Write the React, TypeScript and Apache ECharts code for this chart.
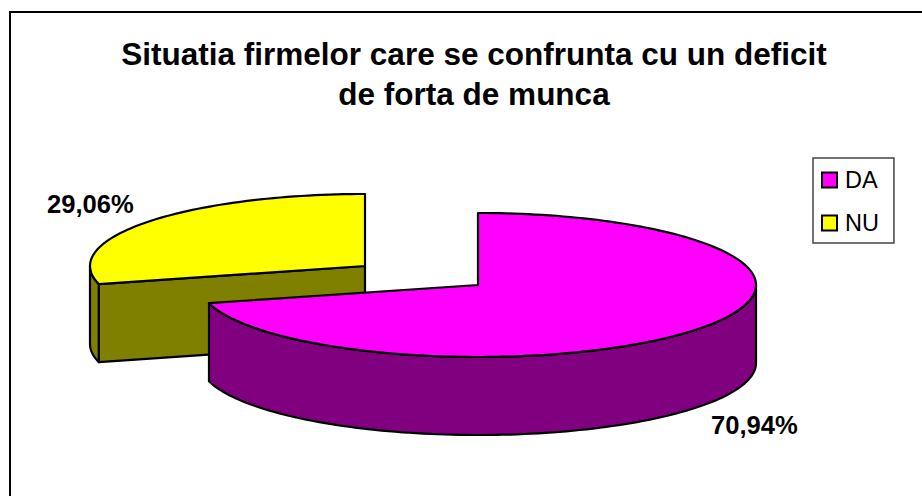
import React, { useEffect, useRef } from "react";
import * as echarts from "echarts";

const titleLines = ["Situatia firmelor care se confrunta cu un deficit", "de forta de munca"];
const categories = ["DA", "NU"];
const values = [70.94, 29.06];
const topColors = ["#ff00ff", "#ffff00"];
const sideColors = ["#800080", "#808000"];

const total = values.reduce((a, b) => a + b, 0);
const DEPTH = 78;
const RY = 72;
const fmt = (v: number) => v.toFixed(2).replace(".", ",") + "%";

function arc(cx: number, cy: number, rx: number, from: number, to: number) {
  const pts: number[][] = [];
  const n = Math.max(2, Math.ceil(Math.abs(to - from) / 1.5));
  for (let i = 0; i <= n; i++) {
    const a = ((from + ((to - from) * i) / n) * Math.PI) / 180;
    pts.push([cx + rx * Math.sin(a), cy - RY * Math.cos(a)]);
  }
  return pts;
}
const drop = (pts: number[][]) => pts.map((p) => [p[0], p[1] + DEPTH]).reverse();

function sliceSeries(index: number, cx: number, cy: number, rx: number, labelPos: number[]) {
  const start = (values.slice(0, index).reduce((a, b) => a + b, 0) / total) * 360;
  const end = start + (values[index] / total) * 360;
  const style = { stroke: "#000", lineWidth: 2.2, lineJoin: "round" as const };
  return {
    type: "custom",
    name: categories[index],
    coordinateSystem: "none",
    silent: true,
    itemStyle: { color: topColors[index], borderColor: "#000", borderWidth: 2 },
    z: index === 0 ? 3 : 2,
    data: [values[index]],
    renderItem: () => {
      const children: any[] = [];
      const frontFrom = Math.max(start, 90);
      const frontTo = Math.min(end, 270);
      if (frontTo > frontFrom) {
        const edge = arc(cx, cy, rx, frontFrom, frontTo);
        children.push({ type: "polygon", shape: { points: [...edge, ...drop(edge)] }, style: { ...style, fill: sideColors[index] } });
      }
      if (start > 90 && start < 270) {
        const a = arc(cx, cy, rx, start, start);
        const cut = [[cx, cy], a[0], [a[0][0], a[0][1] + DEPTH], [cx, cy + DEPTH]];
        children.push({ type: "polygon", shape: { points: cut }, style: { ...style, fill: sideColors[index] } });
      }
      children.push({
        type: "polygon",
        shape: { points: [[cx, cy], ...arc(cx, cy, rx, start, end)] },
        style: { ...style, fill: topColors[index] },
      });
      children.push({
        type: "text",
        x: labelPos[0],
        y: labelPos[1],
        style: {
          text: fmt(values[index]),
          font: 'bold 25.6px "Liberation Sans", Arial, sans-serif',
          fill: "#000",
          align: "left",
          verticalAlign: "middle",
        },
      });
      return { type: "group", children };
    },
  };
}

export default function App() {
  const ref = useRef<HTMLDivElement>(null);
  useEffect(() => {
    document.body.style.margin = "0";
    const chart = echarts.init(ref.current!, undefined, { renderer: "svg" });
    chart.setOption({
      animation: false,
      backgroundColor: "#fff",
      color: topColors,
      title: {
        text: titleLines.join("\n"),
        left: 469,
        top: 29,
        textAlign: "center",
        textStyle: {
          fontFamily: '"Liberation Sans", Arial, sans-serif',
          fontWeight: "bold",
          fontSize: 31.5,
          lineHeight: 40,
          color: "#000",
        },
      },
      legend: {
        data: categories,
        orient: "vertical",
        left: 813,
        top: 158,
        padding: [10, 15, 8, 8],
        itemWidth: 15,
        itemHeight: 15,
        itemGap: 19,
        borderColor: "#444",
        borderWidth: 1.5,
        icon: "rect",
        selectedMode: false,
        textStyle: { fontFamily: '"Liberation Sans", Arial, sans-serif', fontSize: 23.5, color: "#000", padding: [0, 0, 0, 3] },
      },
      graphic: [
        {
          type: "polyline",
          silent: true,
          shape: { points: [[10, 496], [10, 12], [922, 12]] },
          style: { stroke: "#000", lineWidth: 2, fill: "none" },
        },
      ],
      series: [sliceSeries(1, 365, 266, 275, [47, 204]), sliceSeries(0, 478, 285, 278, [711, 425])],
    });
    return () => chart.dispose();
  }, []);
  return <div ref={ref} style={{ width: 922, height: 496 }} />;
}
